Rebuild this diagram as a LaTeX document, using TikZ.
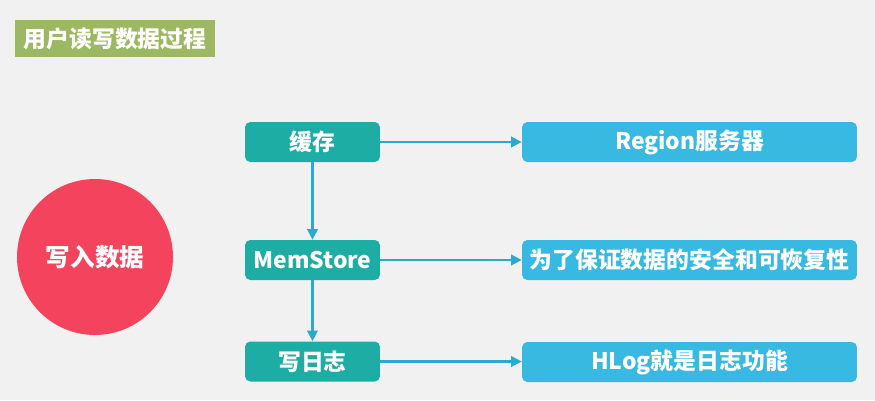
\documentclass[tikz,border=0pt]{standalone}
\usepackage{fontspec}
\setmainfont{Noto Sans CJK SC}
\usetikzlibrary{arrows.meta}
\definecolor{bg}{HTML}{F1F1F1}
\definecolor{olive}{HTML}{9DB862}
\definecolor{teal1}{HTML}{1EADA5}
\definecolor{blue1}{HTML}{38B9E2}
\definecolor{arr}{HTML}{2AAACD}
\definecolor{red1}{HTML}{F4445D}
\begin{document}
\begin{tikzpicture}[x=0.02cm,y=-0.02cm,
  tbox/.style={fill=teal1,rounded corners=3pt,minimum width=2.7cm,minimum height=0.8cm,text=white,font=\bfseries\fontsize{13}{15}\selectfont,inner sep=0pt},
  bbox/.style={fill=blue1,rounded corners=3pt,minimum width=6.7cm,minimum height=0.8cm,text=white,font=\bfseries\fontsize{13}{15}\selectfont,inner sep=0pt},
  con/.style={draw=arr,line width=1.2pt,-{Triangle[length=6pt,width=6pt]}}]
\fill[bg] (0,0) rectangle (875,400);
\useasboundingbox (0,0) rectangle (875,400);
\node[fill=olive,minimum width=4cm,minimum height=0.74cm,text=white,font=\bfseries\fontsize{13}{15}\selectfont,inner sep=0pt] (title) at (115,38.5) {用户读写数据过程};
\node[circle,fill=red1,minimum size=3.12cm,text=white,font=\bfseries\fontsize{14}{16}\selectfont] (w) at (95,257) {写入数据};
\node[tbox] (t1) at (312.5,142) {缓存};
\node[tbox] (t2) at (312.5,260) {MemStore};
\node[tbox] (t3) at (312.5,361.5) {写日志};
\node[bbox] (b1) at (689.5,142) {Region服务器};
\node[bbox] (b2) at (689.5,260) {为了保证数据的安全和可恢复性};
\node[bbox] (b3) at (689.5,362) {HLog就是日志功能};
\draw[con] (t1) -- (t2);
\draw[con] (t2) -- (t3);
\draw[con] (t1) -- (b1);
\draw[con] (t2) -- (b2);
\draw[con] (t3.east) -- (t3.east -| b3.west);
\end{tikzpicture}
\end{document}
